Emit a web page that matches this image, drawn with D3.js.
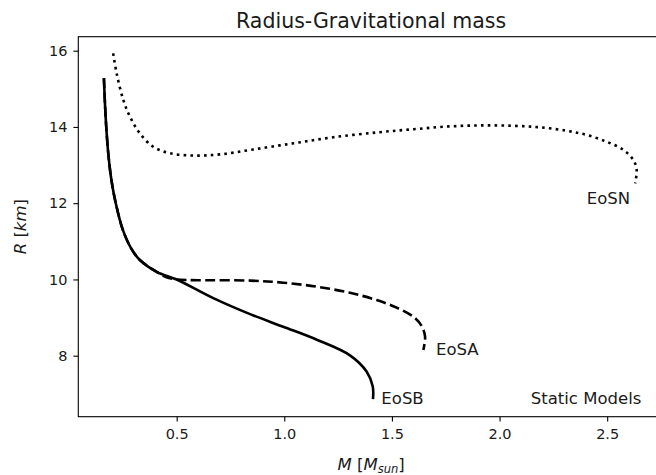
<!DOCTYPE html>
<html>
<head>
<meta charset="utf-8">
<script src="https://cdn.jsdelivr.net/npm/d3@7"></script>
<style>
  body { margin: 0; background: #fff; }
  svg text { font-family: "DejaVu Sans", sans-serif; fill: #1a1a1a; }
</style>
</head>
<body>
<div id="content"></div>
<script>
const svgWidth = 656, svgHeight = 475;

// EoSB (solid)
const massB   = [0.162, 0.167, 0.174, 0.184, 0.197, 0.217, 0.250, 0.290, 0.329, 0.407, 0.50, 0.67, 0.841, 0.995, 1.151, 1.305, 1.383, 1.411, 1.412];
const radiusB = [15.28, 14.60, 13.90, 13.20, 12.60, 12.00, 11.30, 10.80, 10.51, 10.20, 10.00, 9.51, 9.09, 8.76, 8.42, 8.01, 7.58, 7.19, 6.86];

// EoSA (dashed)
const massA   = [0.162, 0.167, 0.174, 0.184, 0.197, 0.217, 0.250, 0.290, 0.329, 0.407, 0.45, 0.50, 0.60, 0.841, 0.995, 1.151, 1.305, 1.429, 1.522, 1.60, 1.638, 1.654, 1.646];
const radiusA = [15.28, 14.60, 13.90, 13.20, 12.60, 12.00, 11.30, 10.80, 10.51, 10.20, 10.06, 10.00, 9.98, 9.97, 9.915, 9.81, 9.65, 9.46, 9.26, 9.02, 8.78, 8.50, 8.15];

// EoSN (dotted)
const massN   = [0.205, 0.221, 0.252, 0.283, 0.329, 0.391, 0.469, 0.577, 0.701, 0.856, 1.042, 1.228, 1.437, 1.600, 1.755, 1.909, 2.064, 2.188, 2.312, 2.405, 2.498, 2.575, 2.622, 2.637, 2.630];
const radiusN = [15.93, 15.41, 14.71, 14.27, 13.83, 13.48, 13.31, 13.25, 13.28, 13.41, 13.57, 13.73, 13.86, 13.94, 14.01, 14.04, 14.03, 13.99, 13.90, 13.79, 13.61, 13.40, 13.13, 12.87, 12.52];

const xTicks = [0.5, 1.0, 1.5, 2.0, 2.5];
const yTicks = [8, 10, 12, 14, 16];

const curveNames = ["EoSB", "EoSA", "EoSN"];
const labelMass   = [1.451, 1.705, 2.405];
const labelRadius = [6.73, 8.02, 11.98];

const zip = (ms, rs) => ms.map((m, i) => [m, rs[i]]);

const svg = d3.select("#content").append("svg")
  .attr("width", svgWidth)
  .attr("height", svgHeight);

const plotLeft = 78.3, plotRight = 664, plotTop = 36.7, plotBottom = 416.7;

const x = d3.scaleLinear().domain([0.043, 2.764]).range([plotLeft, plotRight]);
const y = d3.scaleLinear().domain([6.40, 16.367]).range([plotBottom, plotTop]);

const line = d3.line()
  .x(d => x(d[0]))
  .y(d => y(d[1]))
  .curve(d3.curveCatmullRom.alpha(0.5));

const curves = [
  { pts: zip(massB, radiusB), dash: null },
  { pts: zip(massA, radiusA), dash: "10,4.4" },
  { pts: zip(massN, radiusN), dash: "2.6,4.2" }
];

svg.append("g").selectAll("path")
  .data(curves).enter().append("path")
  .attr("d", d => line(d.pts))
  .attr("fill", "none")
  .attr("stroke", "#000")
  .attr("stroke-width", 2.6)
  .attr("stroke-dasharray", d => d.dash);

// axes
const xAxis = svg.append("g")
  .attr("transform", `translate(0,${plotBottom})`)
  .call(d3.axisBottom(x).tickValues(xTicks).tickFormat(d3.format(".1f")).tickSize(4.9).tickPadding(7));
const yAxis = svg.append("g")
  .attr("transform", `translate(${plotLeft},0)`)
  .call(d3.axisLeft(y).tickValues(yTicks).tickFormat(d3.format("d")).tickSize(4.9).tickPadding(6));

[xAxis, yAxis].forEach(g => {
  g.select(".domain").remove();
  g.selectAll("line").attr("stroke", "#000").attr("stroke-width", 1.1);
  g.selectAll("text").attr("font-size", 14.5).attr("fill", "#1a1a1a");
});

// spines
svg.append("rect")
  .attr("x", plotLeft).attr("y", plotTop)
  .attr("width", plotRight - plotLeft).attr("height", plotBottom - plotTop)
  .attr("fill", "none").attr("stroke", "#000").attr("stroke-width", 1.1);

// curve labels
svg.append("g").selectAll("text")
  .data(curveNames).enter().append("text")
  .attr("x", (d, i) => x(labelMass[i]))
  .attr("y", (d, i) => y(labelRadius[i]))
  .attr("font-size", 16.5)
  .text(d => d);

svg.append("text")
  .attr("x", x(2.145)).attr("y", y(6.73))
  .attr("font-size", 16.5)
  .text("Static Models");

// title
svg.append("text")
  .attr("x", (plotLeft + plotRight) / 2).attr("y", 28)
  .attr("text-anchor", "middle")
  .attr("font-size", 20.5)
  .text("Radius-Gravitational mass");

// x label
const xl = svg.append("text")
  .attr("x", (plotLeft + plotRight) / 2).attr("y", 470)
  .attr("text-anchor", "middle")
  .attr("font-size", 16.5);
xl.append("tspan").attr("font-style", "italic").text("M");
xl.append("tspan").text(" [");
xl.append("tspan").attr("font-style", "italic").text("M");
xl.append("tspan").attr("font-style", "italic").attr("font-size", 11.5).attr("dy", 3).text("sun");
xl.append("tspan").attr("dy", -3).text("]");

// y label
const yl = svg.append("text")
  .attr("transform", `translate(26,${(plotTop + plotBottom) / 2}) rotate(-90)`)
  .attr("text-anchor", "middle")
  .attr("font-size", 16.5);
yl.append("tspan").attr("font-style", "italic").text("R");
yl.append("tspan").text(" [");
yl.append("tspan").attr("font-style", "italic").text("km");
yl.append("tspan").text("]");
</script>
</body>
</html>
